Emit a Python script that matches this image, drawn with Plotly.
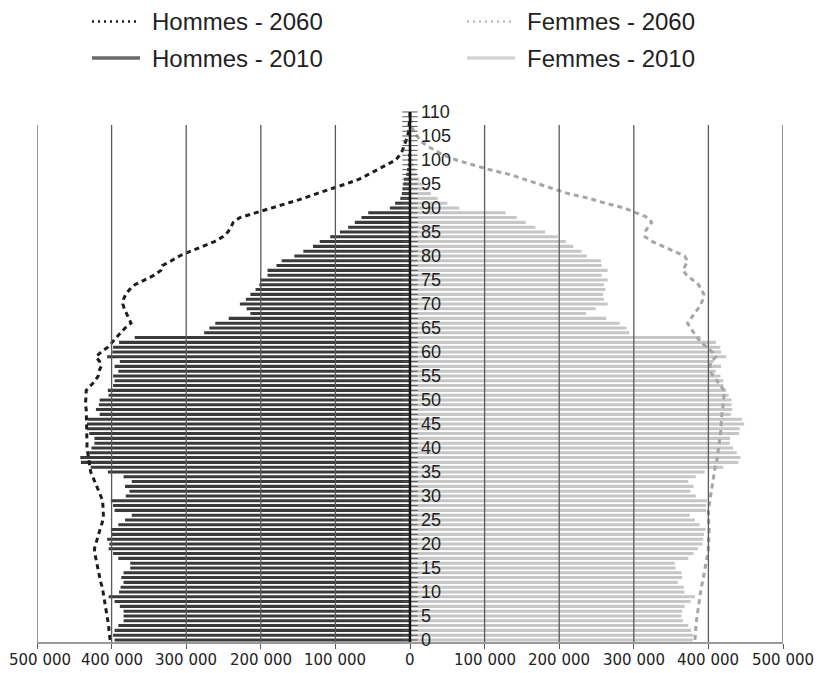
import plotly.graph_objects as go

# population by single age, in thousands (ages 0 .. 110)
ages = list(range(0, 111))

men_2010 = [396, 398, 396, 391, 384, 384, 384, 389, 396, 404,
            390, 388, 384, 387, 384, 375, 375, 391, 398, 404,
            403, 406, 400, 401, 391, 382, 373, 396, 398, 401,
            381, 376, 382, 373, 384, 405, 428, 441, 442, 430,
            427, 423, 423, 430, 433, 433, 432, 416, 421, 417,
            416, 404, 405, 398, 396, 398, 391, 396, 389, 406,
            399, 398, 390, 369, 276, 269, 261, 243, 214, 219,
            228, 220, 214, 207, 202, 201, 191, 191, 179, 172,
            155, 143, 130, 121, 107, 94, 83, 74, 65, 56,
            27, 20, 13, 11, 10, 9, 8, 5, 4, 3,
            2, 1.5, 1, 0.7, 0.5, 0.3, 0.2, 0.1, 0.1, 0, 0]

women_2010 = [379, 380, 377, 373, 366, 364, 365, 368, 376, 382,
              368, 367, 359, 365, 364, 356, 355, 373, 380, 386,
              392, 393, 394, 396, 388, 382, 375, 397, 397, 398,
              383, 376, 380, 373, 383, 395, 420, 440, 443, 438,
              433, 429, 429, 441, 442, 448, 445, 430, 432, 431,
              431, 427, 424, 420, 420, 416, 410, 417, 407, 424,
              417, 416, 410, 390, 294, 290, 281, 263, 236, 249,
              265, 260, 259, 262, 260, 265, 257, 265, 257, 256,
              237, 230, 219, 209, 198, 181, 168, 155, 143, 128,
              66, 50, 37, 28, 25, 19, 13, 9, 7, 5,
              4, 3, 2, 1.2, 0.8, 0.5, 0.3, 0.2, 0.1, 0, 0]

men_2060 = [402, 403, 403.5, 404, 405, 405.5, 406.5, 407.5, 408.5, 409.5,
            411, 412.5, 414.5, 416, 417.5, 419, 420.5, 421.5, 422.5, 423,
            421.5, 419.5, 417.5, 415.5, 413, 411.5, 411, 411, 411, 412,
            414.5, 417, 420, 422.5, 425, 428, 429, 430, 431, 432,
            433, 433, 433, 433, 433, 433, 434, 434, 434, 435,
            435, 435, 434, 428, 422, 418, 417, 414, 416, 421,
            414, 405, 399, 393, 388, 382, 374, 377, 381, 383,
            385, 384, 381, 376, 369, 357, 343, 334, 332, 320,
            309, 294, 278, 262, 251, 244, 240, 237, 228, 207,
            184, 162, 143, 125, 104, 86, 68, 56, 44, 32,
            19, 14, 10, 8, 5, 3, 2, 1, 0.5, 0, 0]

women_2060 = [382, 383, 383, 383, 384, 385, 386, 386.5, 387, 388,
              389, 390.5, 392, 393, 394.5, 396, 397, 398, 399.5, 400,
              400.5, 401, 401, 401, 400.5, 400, 400, 400, 401, 402,
              403, 404, 405, 406, 407, 408, 409, 411, 412, 413,
              414, 415, 416, 416, 417, 417, 417, 418, 419, 420,
              420, 421, 421, 416, 411, 406, 402, 402, 404, 410,
              405, 398, 390, 385, 380, 376, 372, 377, 381, 386,
              390, 393, 394, 391, 387, 379, 371, 366, 369, 372,
              368, 354, 338, 325, 315, 315, 319, 324, 319, 303,
              287, 262, 240, 212, 192, 173, 155, 133, 106, 83,
              62, 45, 33, 22, 14, 9, 5, 2, 1, 0, 0]

x_ticks = [-500000, -400000, -300000, -200000, -100000, 0,
           100000, 200000, 300000, 400000, 500000]
x_labels = ['500 000', '400 000', '300 000', '200 000', '100 000', '0',
            '100 000', '200 000', '300 000', '400 000', '500 000']
age_labels = list(range(0, 111, 5))

legend_items = [('Hommes - 2060', '#1e1e1e', '2px,4px', 2.5),
                ('Femmes - 2060', '#bdbdbd', '2px,4px', 2.5),
                ('Hommes - 2010', '#6a6a6a', 'solid', 3.5),
                ('Femmes - 2010', '#d4d4d4', 'solid', 3.5)]

# the page body adds an 8px margin, so the figure is made 8px smaller
OFF = 8
W, H = 823 - OFF, 673 - OFF
ML, MR, MT, MB = 37 - OFF, 40, 105 - OFF, 31
y_lo = -0.42
y_hi = y_lo + (H - MT - MB) / 4.8


def px(x):
    # window pixel -> paper fraction
    return (x - OFF - ML) / (W - ML - MR)


def py(y):
    return (H - MB - (y - OFF)) / (H - MT - MB)


fig = go.Figure()

fig.add_trace(go.Bar(y=ages, x=[-v * 1000 for v in men_2010], orientation='h',
                     width=0.64, marker=dict(color='#3a3a3a', line_width=0),
                     name='Hommes - 2010', showlegend=False))
fig.add_trace(go.Bar(y=ages, x=[v * 1000 for v in women_2010], orientation='h',
                     width=0.64, marker=dict(color='#c6c6c6', line_width=0),
                     name='Femmes - 2010', showlegend=False))
fig.add_trace(go.Scatter(y=ages, x=[-v * 1000 for v in men_2060], mode='lines',
                         line=dict(color='#1e1e1e', width=3, dash='5px,4px'),
                         name='Hommes - 2060', showlegend=False))
fig.add_trace(go.Scatter(y=ages, x=[v * 1000 for v in women_2060], mode='lines',
                         line=dict(color='#a6a6a6', width=3, dash='5px,4px'),
                         name='Femmes - 2060', showlegend=False))

# vertical gridlines, drawn above the bars
for v in x_ticks:
    fig.add_shape(type='line', x0=v, x1=v, y0=y_lo, y1=107.3, xref='x', yref='y',
                  line=dict(color='#5a5a5a', width=1.3), layer='above')

# central age axis with a tick every year
fig.add_shape(type='line', x0=0, x1=0, y0=y_lo, y1=110, xref='x', yref='y',
              line=dict(color='#111111', width=2.5), layer='above')
fig.add_trace(go.Scatter(y=ages, x=[0] * len(ages), mode='markers',
                         marker=dict(symbol='line-ew', size=11,
                                     line=dict(color='#555555', width=1)),
                         showlegend=False, hoverinfo='skip'))

for a in age_labels:
    fig.add_annotation(x=0, y=a, text=str(a), showarrow=False, xanchor='left',
                       xshift=9, font=dict(family='Liberation Sans', size=18, color='#222222'))

# x tick labels as annotations so the outer ones stay inside the page
for i, (v, t) in enumerate(zip(x_ticks, x_labels)):
    fig.add_annotation(x=v, y=0, xref='x', yref='paper', text=t, showarrow=False,
                       yanchor='top', yshift=-7, xshift=3 if i == 0 else 0,
                       font=dict(family='DejaVu Sans', size=15, color='#222222'))

# legend, two columns
cols = [92, 467]
rows = [21.5, 58]
for i, (label, color, dash, lw) in enumerate(legend_items):
    x0 = cols[i % 2]
    y0 = rows[i // 2]
    fig.add_shape(type='line', xref='paper', yref='paper',
                  x0=px(x0), x1=px(x0 + 48), y0=py(y0), y1=py(y0),
                  line=dict(color=color, width=lw, dash=dash))
    fig.add_annotation(xref='paper', yref='paper', x=px(x0 + 58), y=py(y0),
                       text=label, showarrow=False, xanchor='left', yanchor='middle',
                       font=dict(family='Liberation Sans', size=24, color='#222222'))

fig.update_layout(
    width=W, height=H,
    margin=dict(l=ML, r=MR, t=MT, b=MB, autoexpand=False),
    barmode='overlay',
    plot_bgcolor='white', paper_bgcolor='white',
    showlegend=False,
    xaxis=dict(range=[-500000, 500000], tickvals=x_ticks, showticklabels=False,
               automargin=False,
               showgrid=False, zeroline=False, showline=True, linecolor='#9a9a9a',
               linewidth=2, ticks='outside', ticklen=5, tickcolor='#5a5a5a', tickwidth=1.3),
    yaxis=dict(range=[y_lo, y_hi], showgrid=False, zeroline=False, automargin=False,
               showticklabels=False, showline=False),
)

fig.write_html("out.html")
